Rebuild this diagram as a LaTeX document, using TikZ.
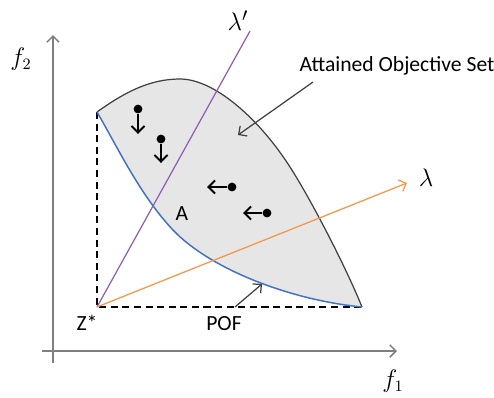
\documentclass[tikz,border=0pt]{standalone}
\usepackage{amsmath}
\usepackage{amssymb}
\usepackage{fontspec}
\setmainfont{Carlito}
\usepackage{tikz}
\usetikzlibrary{arrows.meta}

\definecolor{pofblue}{HTML}{4472C4}
\definecolor{lamorange}{HTML}{F79646}
\definecolor{lampurple}{HTML}{8E5EB5}
\definecolor{setgray}{HTML}{E6E6E6}
\definecolor{axisgray}{HTML}{7F7F7F}

\tikzset{
  axis/.style={draw=axisgray, line width=0.85pt, -{Straight Barb[length=3.5pt,width=7pt]}},
  box/.style={black, line width=1.4pt, dash pattern=on 4pt off 2.6pt},
  pt/.style={circle, fill=black, inner sep=0pt, minimum size=5pt},
  move/.style={-{Straight Barb[length=3.8pt,width=7.5pt]}, line width=1.1pt},
  pointer/.style={black!75, line width=0.7pt, -{Straight Barb[length=3.5pt,width=7pt]}},
  lbl/.style={font=\fontsize{12.3}{14}\selectfont},
  greek/.style={font=\fontsize{15}{18}\selectfont},
}

\begin{document}
\begin{tikzpicture}[x=0.02cm, y=-0.02cm]
    \useasboundingbox (0,0) rectangle (494,397);

    % Axes
    \coordinate (xend) at (397,351);
    \coordinate (yend) at (53,35);
    \coordinate (xstart) at (42,351);
    \coordinate (ystart) at (53,363);
    \draw[axis] (xstart) -- (xend);
    \draw[axis] (ystart) -- (yend);
    \node[font=\fontsize{13.5}{16}\selectfont] (f1) at (393,381) {$f_1$};
    \node[font=\fontsize{13.5}{16}\selectfont] (f2) at (21,59) {$f_2$};

    % Corners of the set
    \coordinate (Z) at (97,307);
    \coordinate (P) at (97,112);
    \coordinate (Q) at (362,307);
    \coordinate (top) at (180,79);
    \coordinate (mid) at (290,167);
    \coordinate (knee) at (173,230);

    % Attained objective set
    \fill[setgray] (P) .. controls (125,92) and (150,79) .. (top)
        .. controls (215,79) and (260,120) .. (mid)
        .. controls (310,198) and (345,265) .. (Q)
        .. controls (290,300) and (210,269) .. (knee)
        .. controls (140,195) and (118,148) .. (P) -- cycle;
    \draw[black!75, line width=0.7pt] (P) .. controls (125,92) and (150,79) .. (top)
        .. controls (215,79) and (260,120) .. (mid)
        .. controls (310,198) and (345,265) .. (Q);

    % Dashed box
    \draw[box] (P) -- (Z) -- (Q);

    % Pareto optimal front
    \draw[pofblue, line width=0.85pt] (P) .. controls (118,148) and (140,195) .. (knee)
        .. controls (210,269) and (290,300) .. (Q);

    % Weight vectors
    \coordinate (lt) at (250,31);
    \coordinate (lr) at (407,183);
    \draw[lampurple, line width=0.7pt] (Z) -- (lt);
    \draw[lamorange, line width=0.7pt, -{Straight Barb[length=3.5pt,width=7pt]}] (Z) -- (lr);
    \node[greek] (lam1) at (238,21) {$\lambda'$};
    \node[greek] (lam) at (426,178) {$\lambda$};

    % Points moving towards the front
    \node[pt] (p1) at (138,109) {};
    \node[pt] (p2) at (161,139) {};
    \node[pt] (p3) at (232,187) {};
    \node[pt] (p4) at (267,213) {};
    \coordinate (q1) at (138,134);
    \coordinate (q2) at (161,163);
    \coordinate (q3) at (207,187);
    \coordinate (q4) at (243,213);
    \draw[move] (p1) -- (q1);
    \draw[move] (p2) -- (q2);
    \draw[move] (p3) -- (q3);
    \draw[move] (p4) -- (q4);

    % Labels
    \node[lbl] (aos) at (397,66) {Attained Objective Set};
    \coordinate (aosfoot) at (313,82);
    \coordinate (aostip) at (238,135);
    \draw[pointer] (aosfoot) -- (aostip);
    \node[lbl] (A) at (182,214) {A};
    \node[lbl] (zs) at (87,323) {Z*};
    \node[lbl] (pof) at (224,324) {POF};
    \coordinate (poffoot) at (235,307);
    \coordinate (poftip) at (262,284);
    \draw[pointer] (poffoot) -- (poftip);
\end{tikzpicture}
\end{document}
